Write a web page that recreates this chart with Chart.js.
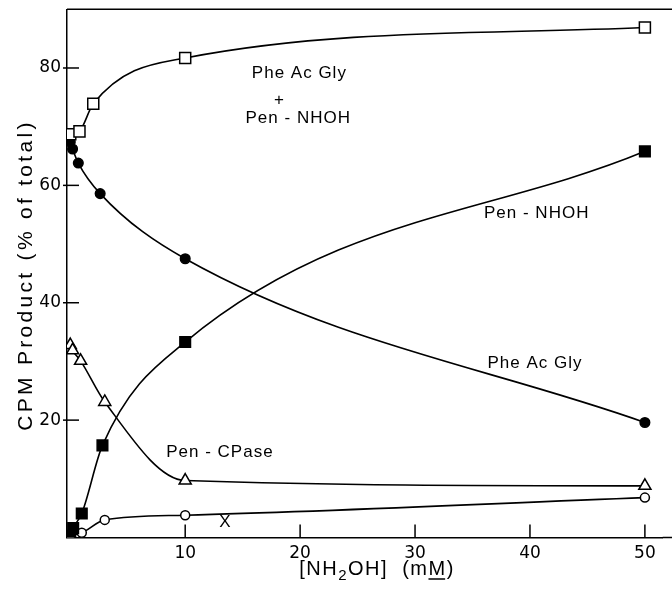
<!DOCTYPE html>
<html><head><meta charset="utf-8">
<script src="https://cdn.jsdelivr.net/npm/chart.js@4.4.1/dist/chart.umd.min.js"></script>
<style>html,body{margin:0;padding:0;background:#fff;}#wrap{width:672px;height:597px;position:relative;}</style>
</head><body><div id="wrap"><canvas id="c" width="672" height="597"></canvas></div>
<script>
// tick labels
const xTicks = [10, 20, 30, 40, 50];
const yTicks = [20, 40, 60, 80];
// series: PheAcGly + Pen-NHOH (open squares)
const sumX = [0, 0.8, 2, 10, 50];
const sumY = [68.7, 69.2, 73.9, 81.7, 86.9];
// PheAcGly (filled circles)
const pheX = [0, 0.2, 0.7, 2.6, 10, 50];
const pheY = [67.4, 66.2, 63.8, 58.6, 47.5, 19.6];
// Pen-CPase (open triangles)
const cpX = [0, 0.2, 0.9, 3, 10, 50];
const cpY = [32.8, 31.9, 30.1, 23.1, 9.7, 8.8];
// Pen-NHOH (filled squares)
const nhX = [0, 0.25, 1, 2.8, 10, 50];
const nhY = [0.3, 1.6, 4.1, 15.7, 33.3, 65.8];
// X (open circles)
const xsX = [0, 1, 3, 10, 50];
const xsY = [0.3, 0.8, 3.0, 3.8, 6.8];

// curve labels (text, anchor in data units)
const labelTexts = ['Phe Ac Gly', '+', 'Pen - NHOH', 'Pen - NHOH', 'Phe Ac Gly', 'Pen - CPase', 'X'];
const labelAt = [[15.8, 79.1, 'left'], [18.2, 74.5, 'center'], [15.25, 71.4, 'left'], [36.0, 55.2, 'left'], [36.3, 29.7, 'left'], [8.35, 14.55, 'left'], [13.5, 2.6, 'center']];

function mk(label, xs, ys, style, fill, r) {
  return {
    label, data: xs.map((x, i) => ({x, y: ys[i]})), showLine: true,
    borderColor: '#000', borderWidth: 1.6, pointStyle: style, pointRadius: r, pointHoverRadius: r,
    pointBackgroundColor: fill, pointBorderColor: '#000', pointBorderWidth: 1.5,
    cubicInterpolationMode: 'monotone', tension: 0.4, fill: false
  };
}
function noPad(s) { s.paddingTop = 0; s.paddingBottom = 0; s.paddingLeft = 0; s.paddingRight = 0; }

const deco = {
  id: 'deco',
  afterDraw(chart) {
    const ctx = chart.ctx, a = chart.chartArea, xs = chart.scales.x, ys = chart.scales.y;
    ctx.save();
    ctx.strokeStyle = '#000'; ctx.lineWidth = 1.5;
    ctx.beginPath(); ctx.moveTo(a.left, a.top); ctx.lineTo(chart.width, a.top); ctx.stroke();
    ctx.beginPath(); ctx.moveTo(a.right, a.bottom); ctx.lineTo(chart.width, a.bottom); ctx.stroke();
    xTicks.forEach(v => { const p = xs.getPixelForValue(v); ctx.beginPath(); ctx.moveTo(p, a.bottom); ctx.lineTo(p, a.bottom - 13); ctx.stroke(); });
    yTicks.forEach(v => { const p = ys.getPixelForValue(v); ctx.beginPath(); ctx.moveTo(a.left - 4, p); ctx.lineTo(a.left + 12, p); ctx.stroke(); });
    ctx.fillStyle = '#000';
    // curve labels
    ctx.font = '17px "Liberation Sans"'; ctx.textBaseline = 'middle'; ctx.letterSpacing = '1px';
    labelTexts.forEach((t, i) => {
      const [lx, ly, al] = labelAt[i];
      ctx.textAlign = al;
      ctx.fillText(t, xs.getPixelForValue(lx), ys.getPixelForValue(ly));
    });
    // y title
    ctx.save();
    ctx.translate(26.5, 275); ctx.rotate(-Math.PI / 2);
    ctx.font = '21px "Liberation Sans"'; ctx.letterSpacing = '3.3px'; ctx.textAlign = 'center'; ctx.textBaseline = 'middle';
    ctx.fillText('CPM Product (% of total)', 0, 0);
    ctx.restore();
    // x title
    ctx.textAlign = 'left'; ctx.textBaseline = 'alphabetic'; ctx.letterSpacing = '1.5px';
    const parts = [['[NH', 20, 0, false], ['2', 15, 5, false], ['OH]', 20, 0, false], ['  (m', 20, 0, false], ['M', 20, 0, true], [')', 20, 0, false]];
    let total = 0;
    parts.forEach(p => { ctx.font = p[1] + 'px "Liberation Sans"'; p.push(ctx.measureText(p[0]).width); total += p[4]; });
    let cx = 377 - total / 2; const base = 575;
    parts.forEach(p => {
      ctx.font = p[1] + 'px "Liberation Sans"';
      ctx.fillText(p[0], cx, base + p[2]);
      if (p[3]) { ctx.lineWidth = 1.5; ctx.beginPath(); ctx.moveTo(cx, base + 4); ctx.lineTo(cx + p[4] - 1.5, base + 4); ctx.stroke(); }
      cx += p[4];
    });
    ctx.restore();
  }
};

new Chart(document.getElementById('c'), {
  type: 'scatter',
  data: {
    datasets: [
      mk('PheAcGly + Pen-NHOH', sumX, sumY, 'rect', '#fff', 7.8),
      mk('PheAcGly', pheX, pheY, 'circle', '#000', 4.8),
      mk('Pen-CPase', cpX, cpY, 'triangle', '#fff', 7),
      mk('Pen-NHOH', nhX, nhY, 'rect', '#000', 7.5),
      mk('X', xsX, xsY, 'circle', '#fff', 4.5)
    ]
  },
  options: {
    animation: false, responsive: false, devicePixelRatio: 1,
    layout: {padding: {top: 8, right: 0, left: 0, bottom: 0}},
    plugins: {legend: {display: false}, tooltip: {enabled: false}},
    scales: {
      x: {
        type: 'linear', min: -0.285, max: 51.55,
        afterBuildTicks: s => { s.ticks = xTicks.map(v => ({value: v})); },
        afterFit: s => { s.height = 59.5; noPad(s); },
        grid: {display: false, drawTicks: false},
        border: {display: true, color: '#000', width: 1.5},
        ticks: {color: '#000', font: {family: 'DejaVu Sans', size: 17}, padding: 6, maxRotation: 0, autoSkip: false}
      },
      y: {
        type: 'linear', min: 0, max: 90,
        afterBuildTicks: s => { s.ticks = yTicks.map(v => ({value: v})); },
        afterFit: s => { s.width = 67; noPad(s); },
        grid: {display: false, drawTicks: false},
        border: {display: true, color: '#000', width: 1.5},
        ticks: {color: '#000', font: {family: 'DejaVu Sans', size: 17}, padding: 6, autoSkip: false}
      }
    }
  },
  plugins: [deco]
});
</script></body></html>
